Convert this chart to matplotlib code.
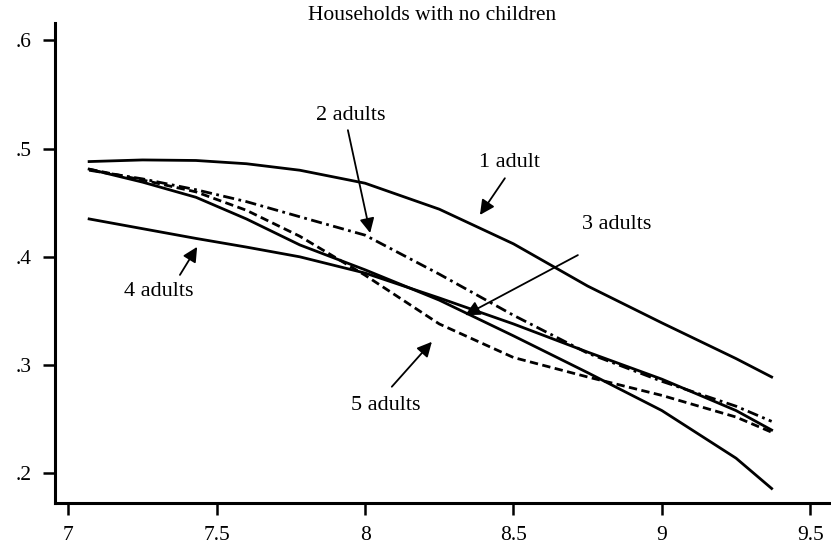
import matplotlib
matplotlib.use("Agg")
import matplotlib.pyplot as plt
from matplotlib.ticker import FuncFormatter

plt.rcParams['font.family'] = ['Liberation Serif', 'DejaVu Serif']

# log expenditure grid
x_vals = [7.07, 7.25, 7.43, 7.6, 7.78, 8.0, 8.25, 8.5, 8.75, 9.0, 9.25, 9.37]

one_adult = [0.488, 0.4895, 0.489, 0.486, 0.480, 0.468, 0.444, 0.412, 0.373, 0.339, 0.306, 0.289]
two_adults = [0.480, 0.472, 0.462, 0.451, 0.437, 0.420, 0.384, 0.346, 0.311, 0.285, 0.262, 0.248]
three_adults = [0.481, 0.469, 0.455, 0.435, 0.411, 0.388, 0.360, 0.327, 0.293, 0.258, 0.214, 0.186]
four_adults = [0.435, 0.426, 0.417, 0.409, 0.400, 0.385, 0.362, 0.338, 0.312, 0.287, 0.258, 0.240]
five_adults = [0.481, 0.471, 0.460, 0.443, 0.419, 0.383, 0.338, 0.307, 0.289, 0.272, 0.252, 0.238]

x_ticks = [7, 7.5, 8, 8.5, 9, 9.5]
y_ticks = [0.2, 0.3, 0.4, 0.5, 0.6]

# label text, text position, arrow start, arrow tip
labels = ["1 adult", "2 adults", "3 adults", "4 adults", "5 adults"]
label_pos = [(8.485, 0.487), (7.953, 0.531), (8.849, 0.430), (7.306, 0.3677), (8.07, 0.263)]
arrow_from = [(8.471, 0.4726), (7.942, 0.517), (8.717, 0.4016), (7.376, 0.3833), (8.09, 0.280)]
arrow_to = [(8.387, 0.4387), (8.017, 0.422), (8.337, 0.3461), (7.434, 0.4092), (8.225, 0.3215)]

fig = plt.figure(figsize=(8.31, 5.57), dpi=100)
ax = fig.add_axes([54.7 / 831, 1 - 503 / 557, 1 - 54.7 / 831, (503 - 23) / 557])

ax.plot(x_vals, one_adult, color='k', lw=2)
ax.plot(x_vals, two_adults, color='k', lw=2, linestyle=(0, (4, 1.6, 1, 1.6)))
ax.plot(x_vals, three_adults, color='k', lw=2)
ax.plot(x_vals, four_adults, color='k', lw=2)
ax.plot(x_vals, five_adults, color='k', lw=2, linestyle=(0, (3, 1.6)))

for lab, tp, a0, a1 in zip(labels, label_pos, arrow_from, arrow_to):
    ax.text(tp[0], tp[1], lab, fontsize=16, ha='center', va='center')
    ax.annotate('', xy=a1, xytext=a0,
                arrowprops=dict(arrowstyle='-|>', color='k', lw=1.3,
                                mutation_scale=22, shrinkA=0, shrinkB=0))

ax.set_xlim(6.954, 9.57)
ax.set_ylim(0.1726, 0.616)
ax.set_xticks(x_ticks)
ax.set_yticks(y_ticks)
ax.xaxis.set_major_formatter(FuncFormatter(lambda v, p: ('%g' % v)))
ax.yaxis.set_major_formatter(FuncFormatter(lambda v, p: ('%g' % v).lstrip('0')))
ax.tick_params(direction='out', length=8.6, width=1.8, labelsize=15.5, pad=8)
ax.spines['top'].set_visible(False)
ax.spines['right'].set_visible(False)
ax.spines['left'].set_linewidth(2.2)
ax.spines['bottom'].set_linewidth(2.2)

fig.text(432 / 831, 1 - 16 / 557, "Households with no children", fontsize=15.5,
         ha='center', va='center')

fig.savefig("out.png", dpi=100)
